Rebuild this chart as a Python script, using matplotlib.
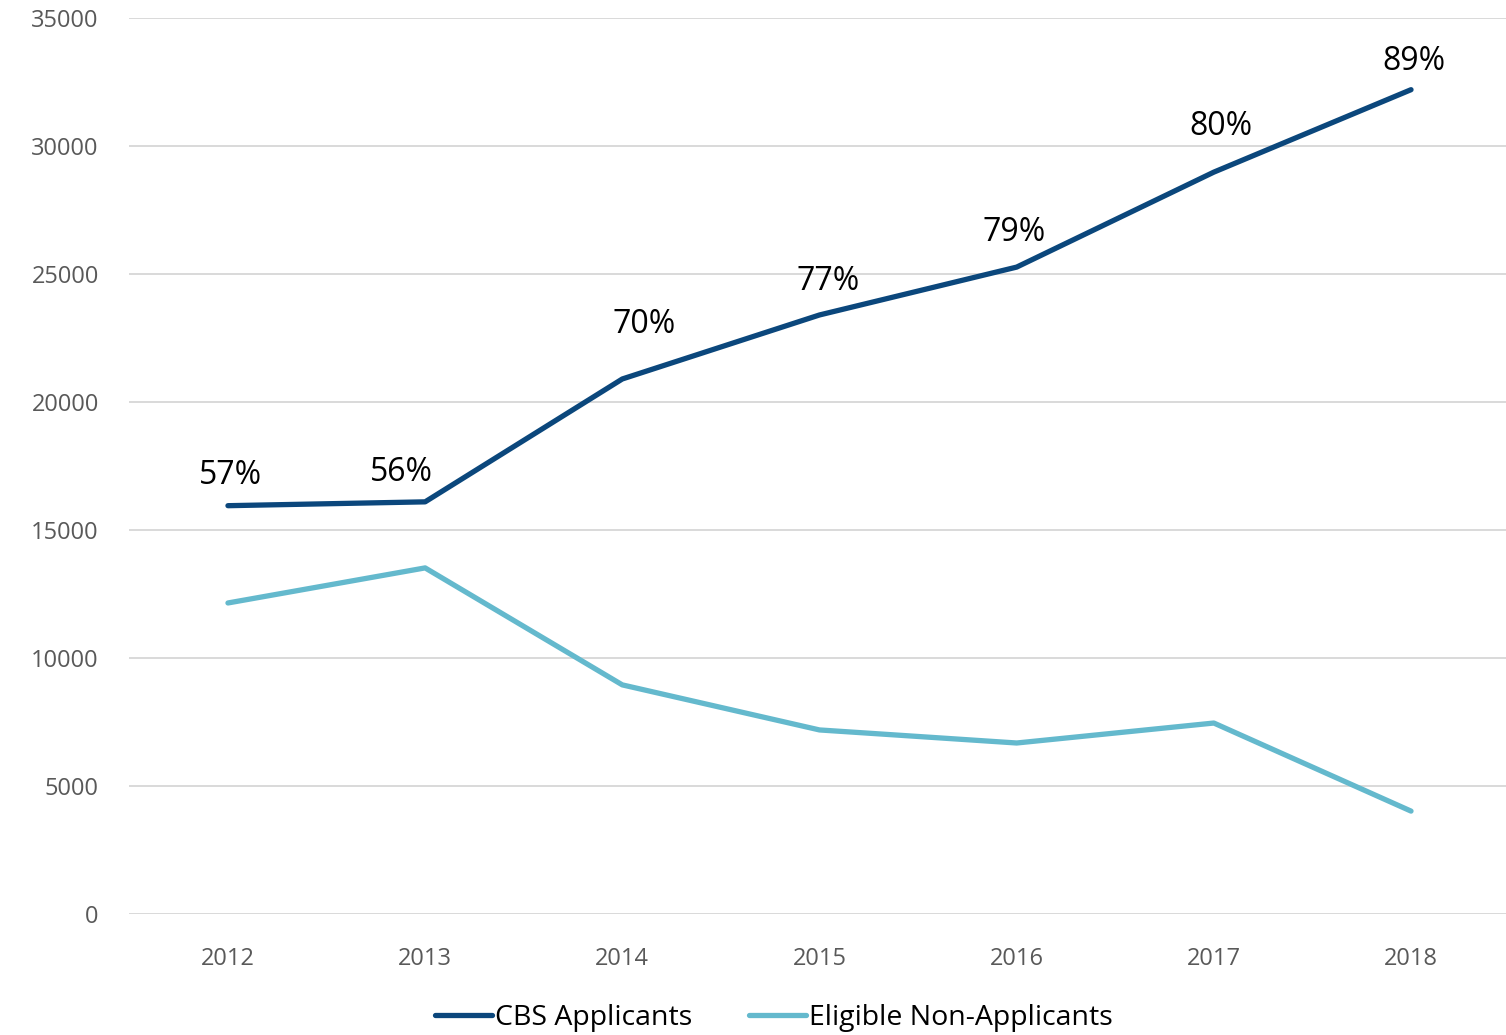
import matplotlib
matplotlib.use("Agg")
import matplotlib.pyplot as plt

plt.rcParams['font.family'] = ['Open Sans', 'DejaVu Sans']

# data
years = ['2012', '2013', '2014', '2015', '2016', '2017', '2018']
cbs_applicants = [15950, 16100, 20900, 23400, 25270, 28980, 32200]
eligible_non_applicants = [12150, 13520, 8950, 7190, 6680, 7460, 4020]
pct_labels = ['57%', '56%', '70%', '77%', '79%', '80%', '89%']

# label offsets (points) above each CBS point
label_dx = [2, -17, 16, 6, -2, 5, 2]
label_dy = [22, 21, 39, 24, 25, 33, 20]

fig = plt.figure(figsize=(15.06, 10.35), dpi=100)
ax = fig.add_axes([0.0859, 0.1169, 0.9165, 0.8657])

x = list(range(len(years)))
ax.plot(x, cbs_applicants, color='#0b477c', lw=3.8, solid_capstyle='round',
        label='CBS Applicants')
ax.plot(x, eligible_non_applicants, color='#64b9cd', lw=3.8, solid_capstyle='round',
        label='Eligible Non-Applicants')

for i in range(len(x)):
    ax.annotate(pct_labels[i], (x[i], cbs_applicants[i]),
                xytext=(label_dx[i], label_dy[i]), textcoords='offset points',
                ha='center', va='center', fontsize=23, color='black')

ax.set_xlim(-0.5, 6.5)
ax.set_ylim(0, 35000)
ax.set_yticks(range(0, 35001, 5000))
ax.set_xticks(x)
ax.set_xticklabels(years)
ax.grid(axis='y', color='#d9d9d9', lw=1.4)
ax.set_axisbelow(True)
for s in ax.spines.values():
    s.set_visible(False)
ax.tick_params(length=0, labelsize=17, labelcolor='#595959')
ax.tick_params(axis='y', pad=22)
ax.tick_params(axis='x', pad=24)

ax.legend(loc='lower center', bbox_to_anchor=(0.467, -0.16), ncol=2, frameon=False,
          fontsize=20.5, handlelength=2.0, handletextpad=0.1, columnspacing=2.0)

fig.savefig('out.png', dpi=100)
